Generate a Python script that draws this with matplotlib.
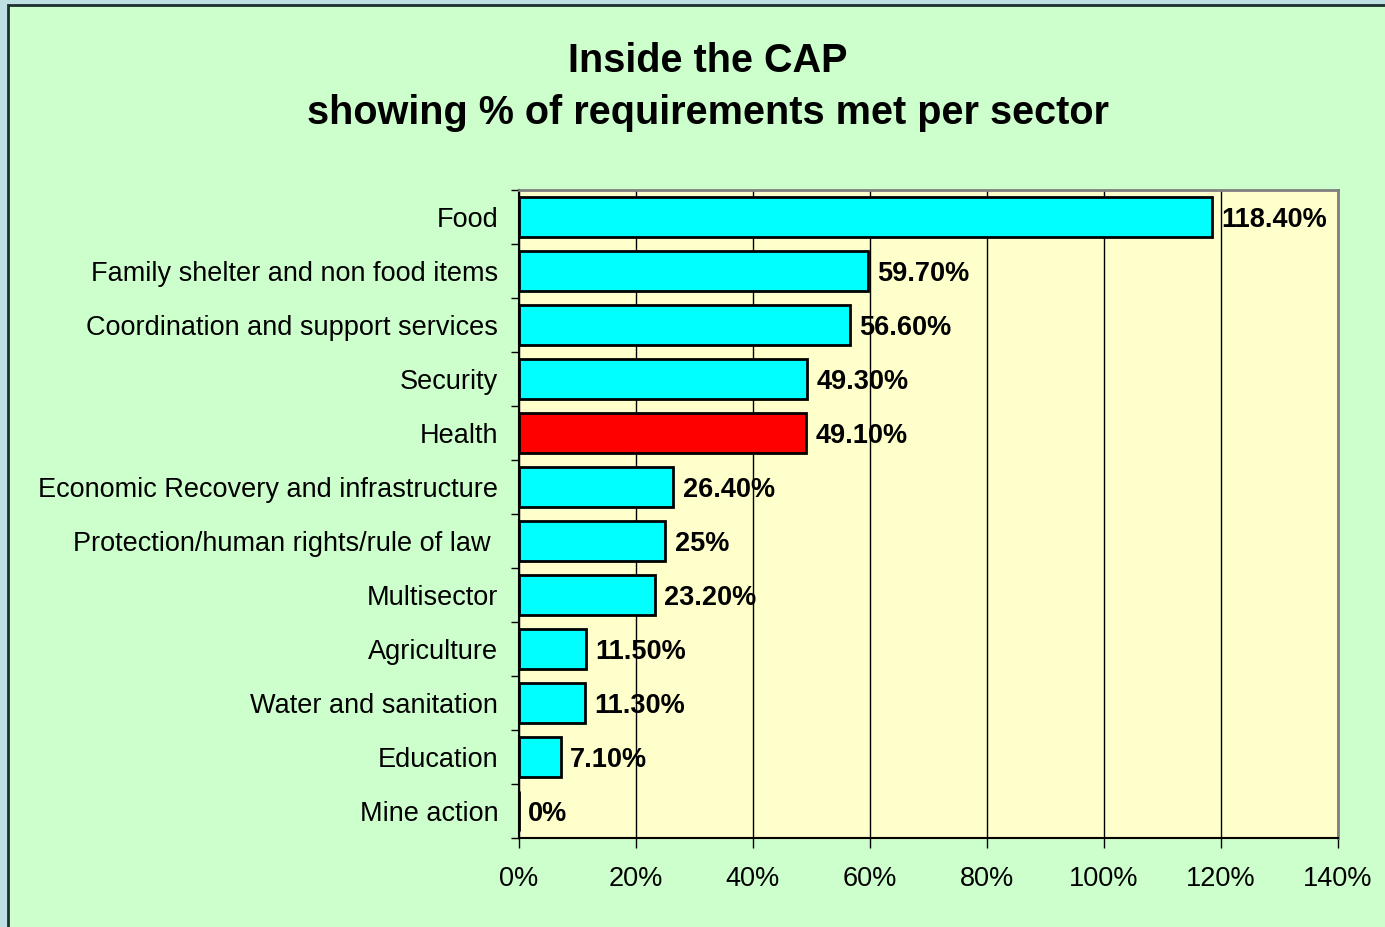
import matplotlib.pyplot as plt
from matplotlib.patches import Rectangle
from matplotlib.ticker import FixedLocator, PercentFormatter

# data
sectors = [
    'Food',
    'Family shelter and non food items',
    'Coordination and support services',
    'Security',
    'Health',
    'Economic Recovery and infrastructure',
    'Protection/human rights/rule of law ',
    'Multisector',
    'Agriculture',
    'Water and sanitation',
    'Education',
    'Mine action',
]
pct_met = [118.4, 59.7, 56.6, 49.3, 49.1, 26.4, 25.0, 23.2, 11.5, 11.3, 7.1, 0.0]
value_labels = ['118.40%', '59.70%', '56.60%', '49.30%', '49.10%', '26.40%',
                '25%', '23.20%', '11.50%', '11.30%', '7.10%', '0%']
highlight = 'Health'
xticks = [0, 20, 40, 60, 80, 100, 120, 140]

plt.rcParams['font.family'] = ['Liberation Sans', 'DejaVu Sans']

fig = plt.figure(figsize=(13.85, 9.27), dpi=100)
fig.patch.set_facecolor('#bfe0e3')
# green chart area with dark outline, kept behind the axes
fig.patches.append(Rectangle((8 / 1385, -0.01), 1.0, 1 - 5 / 927 + 0.01,
                             transform=fig.transFigure, facecolor='#ccffcc',
                             edgecolor='#1f2f2f', linewidth=2, zorder=-10))

ax = fig.add_axes([519 / 1385, 1 - 838 / 927, (1338 - 519) / 1385, (838 - 190) / 927])
ax.set_facecolor('#ffffcc')

n = len(sectors)
ypos = list(range(n))
colors = ['#ff0000' if s == highlight else '#00ffff' for s in sectors]
ax.barh(ypos, pct_met, height=0.74, color=colors, edgecolor='black',
        linewidth=2, zorder=3)

# value labels just right of each bar
for y, v, lab in zip(ypos, pct_met, value_labels):
    ax.text(v + 1.6, y + 0.05, lab, va='center', ha='left', fontsize=19.5,
            fontweight='bold', color='black', zorder=4)

ax.set_xlim(0, 140)
ax.set_ylim(n - 0.5, -0.5)
ax.xaxis.set_major_locator(FixedLocator(xticks))
ax.xaxis.set_major_formatter(PercentFormatter(decimals=0))
ax.tick_params(axis='x', labelsize=19.5, length=7, width=1, pad=13, direction='out')

# ticks at category boundaries, labels at centres
ax.set_yticks([i - 0.5 for i in range(n + 1)])
ax.set_yticklabels([])
ax.set_yticks(ypos, minor=True)
ax.set_yticklabels(sectors, minor=True, fontsize=19.5)
ax.tick_params(axis='y', which='major', length=6, width=1, direction='out')
ax.tick_params(axis='y', which='minor', length=0, pad=15)

ax.grid(axis='x', color='black', linewidth=1, zorder=1)
ax.set_axisbelow(True)
for side in ['left', 'bottom']:
    ax.spines[side].set_color('black')
    ax.spines[side].set_linewidth(1.5)
for side in ['top', 'right']:
    ax.spines[side].set_color('#808080')
    ax.spines[side].set_linewidth(2)

fig.text(0.511, 1 - 61 / 927, 'Inside the CAP', ha='center', va='center',
         fontsize=28.5, fontweight='bold')
fig.text(0.511, 1 - 113 / 927, 'showing % of requirements met per sector',
         ha='center', va='center', fontsize=28.5, fontweight='bold')

plt.savefig('out.png', dpi=100, facecolor=fig.get_facecolor())
